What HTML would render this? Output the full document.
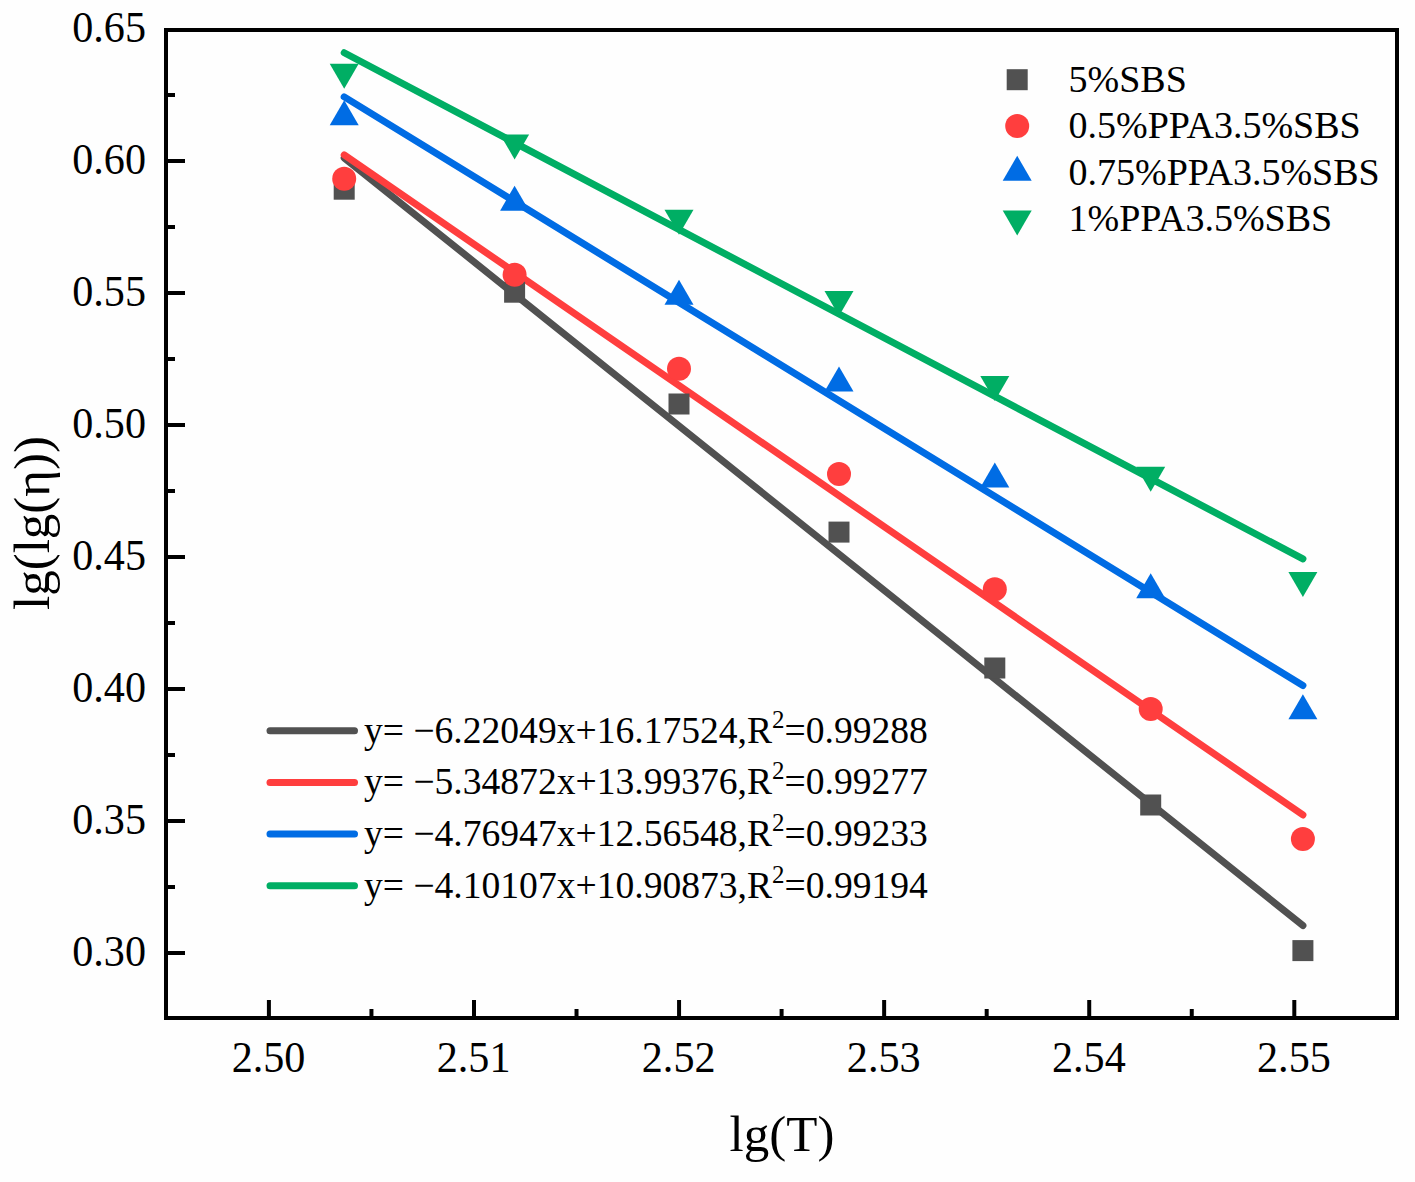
<!DOCTYPE html><html><head><meta charset="utf-8"><style>
html,body{margin:0;padding:0;background:#fefefe;width:1415px;height:1182px;overflow:hidden}
svg{display:block}
text{font-family:"Liberation Serif", serif;fill:#000}
</style></head><body>
<svg width="1415" height="1182" viewBox="0 0 1415 1182">
<rect width="1415" height="1182" fill="#fefefe"/>
<line x1="344.20" y1="157.90" x2="1302.90" y2="925.59" stroke="#515151" stroke-width="7.0" stroke-linecap="round"/>
<line x1="344.20" y1="154.87" x2="1302.90" y2="814.98" stroke="#FF3E3E" stroke-width="7.0" stroke-linecap="round"/>
<line x1="344.20" y1="96.87" x2="1302.90" y2="685.49" stroke="#006CE4" stroke-width="7.0" stroke-linecap="round"/>
<line x1="344.20" y1="52.77" x2="1302.90" y2="558.90" stroke="#00AE64" stroke-width="7.0" stroke-linecap="round"/>
<rect x="333.70" y="178.70" width="21.00" height="21.00" fill="#515151"/>
<rect x="504.10" y="281.70" width="21.00" height="21.00" fill="#515151"/>
<rect x="668.50" y="393.50" width="21.00" height="21.00" fill="#515151"/>
<rect x="828.50" y="521.60" width="21.00" height="21.00" fill="#515151"/>
<rect x="984.30" y="657.50" width="21.00" height="21.00" fill="#515151"/>
<rect x="1140.20" y="794.50" width="21.00" height="21.00" fill="#515151"/>
<rect x="1292.40" y="940.10" width="21.00" height="21.00" fill="#515151"/>
<circle cx="344.20" cy="178.70" r="12.00" fill="#FF3E3E"/>
<circle cx="514.60" cy="274.80" r="12.00" fill="#FF3E3E"/>
<circle cx="679.00" cy="368.70" r="12.00" fill="#FF3E3E"/>
<circle cx="839.00" cy="473.90" r="12.00" fill="#FF3E3E"/>
<circle cx="994.80" cy="589.30" r="12.00" fill="#FF3E3E"/>
<circle cx="1150.70" cy="709.00" r="12.00" fill="#FF3E3E"/>
<circle cx="1302.90" cy="839.00" r="12.00" fill="#FF3E3E"/>
<polygon points="344.20,100.13 358.70,125.13 329.70,125.13" fill="#006CE4"/>
<polygon points="514.60,185.63 529.10,210.63 500.10,210.63" fill="#006CE4"/>
<polygon points="679.00,279.73 693.50,304.73 664.50,304.73" fill="#006CE4"/>
<polygon points="839.00,366.53 853.50,391.53 824.50,391.53" fill="#006CE4"/>
<polygon points="994.80,462.53 1009.30,487.53 980.30,487.53" fill="#006CE4"/>
<polygon points="1150.70,573.33 1165.20,598.33 1136.20,598.33" fill="#006CE4"/>
<polygon points="1302.90,694.33 1317.40,719.33 1288.40,719.33" fill="#006CE4"/>
<polygon points="329.70,63.87 358.70,63.87 344.20,88.87" fill="#00AE64"/>
<polygon points="500.10,134.47 529.10,134.47 514.60,159.47" fill="#00AE64"/>
<polygon points="664.50,209.67 693.50,209.67 679.00,234.67" fill="#00AE64"/>
<polygon points="824.50,290.97 853.50,290.97 839.00,315.97" fill="#00AE64"/>
<polygon points="980.30,375.97 1009.30,375.97 994.80,400.97" fill="#00AE64"/>
<polygon points="1136.20,466.67 1165.20,466.67 1150.70,491.67" fill="#00AE64"/>
<polygon points="1288.40,571.97 1317.40,571.97 1302.90,596.97" fill="#00AE64"/>
<rect x="166" y="30" width="1231" height="988" fill="none" stroke="#000" stroke-width="4"/>
<line x1="166" y1="953.00" x2="185.00" y2="953.00" stroke="#000" stroke-width="4"/>
<line x1="166" y1="887.00" x2="175.00" y2="887.00" stroke="#000" stroke-width="4"/>
<line x1="166" y1="821.00" x2="185.00" y2="821.00" stroke="#000" stroke-width="4"/>
<line x1="166" y1="755.00" x2="175.00" y2="755.00" stroke="#000" stroke-width="4"/>
<line x1="166" y1="689.00" x2="185.00" y2="689.00" stroke="#000" stroke-width="4"/>
<line x1="166" y1="623.00" x2="175.00" y2="623.00" stroke="#000" stroke-width="4"/>
<line x1="166" y1="557.00" x2="185.00" y2="557.00" stroke="#000" stroke-width="4"/>
<line x1="166" y1="491.00" x2="175.00" y2="491.00" stroke="#000" stroke-width="4"/>
<line x1="166" y1="425.00" x2="185.00" y2="425.00" stroke="#000" stroke-width="4"/>
<line x1="166" y1="359.00" x2="175.00" y2="359.00" stroke="#000" stroke-width="4"/>
<line x1="166" y1="293.00" x2="185.00" y2="293.00" stroke="#000" stroke-width="4"/>
<line x1="166" y1="227.00" x2="175.00" y2="227.00" stroke="#000" stroke-width="4"/>
<line x1="166" y1="161.00" x2="185.00" y2="161.00" stroke="#000" stroke-width="4"/>
<line x1="166" y1="95.00" x2="175.00" y2="95.00" stroke="#000" stroke-width="4"/>
<line x1="268.90" y1="1018" x2="268.90" y2="1000.00" stroke="#000" stroke-width="4"/>
<line x1="371.44" y1="1018" x2="371.44" y2="1009.00" stroke="#000" stroke-width="4"/>
<line x1="473.98" y1="1018" x2="473.98" y2="1000.00" stroke="#000" stroke-width="4"/>
<line x1="576.52" y1="1018" x2="576.52" y2="1009.00" stroke="#000" stroke-width="4"/>
<line x1="679.06" y1="1018" x2="679.06" y2="1000.00" stroke="#000" stroke-width="4"/>
<line x1="781.60" y1="1018" x2="781.60" y2="1009.00" stroke="#000" stroke-width="4"/>
<line x1="884.14" y1="1018" x2="884.14" y2="1000.00" stroke="#000" stroke-width="4"/>
<line x1="986.68" y1="1018" x2="986.68" y2="1009.00" stroke="#000" stroke-width="4"/>
<line x1="1089.22" y1="1018" x2="1089.22" y2="1000.00" stroke="#000" stroke-width="4"/>
<line x1="1191.76" y1="1018" x2="1191.76" y2="1009.00" stroke="#000" stroke-width="4"/>
<line x1="1294.30" y1="1018" x2="1294.30" y2="1000.00" stroke="#000" stroke-width="4"/>
<text transform="translate(146,965.80) scale(0.958,1)" font-size="44" text-anchor="end">0.30</text>
<text transform="translate(146,833.80) scale(0.958,1)" font-size="44" text-anchor="end">0.35</text>
<text transform="translate(146,701.80) scale(0.958,1)" font-size="44" text-anchor="end">0.40</text>
<text transform="translate(146,569.80) scale(0.958,1)" font-size="44" text-anchor="end">0.45</text>
<text transform="translate(146,437.80) scale(0.958,1)" font-size="44" text-anchor="end">0.50</text>
<text transform="translate(146,305.80) scale(0.958,1)" font-size="44" text-anchor="end">0.55</text>
<text transform="translate(146,173.80) scale(0.958,1)" font-size="44" text-anchor="end">0.60</text>
<text transform="translate(146,41.80) scale(0.958,1)" font-size="44" text-anchor="end">0.65</text>
<text transform="translate(268.50,1072) scale(0.958,1)" font-size="44" text-anchor="middle">2.50</text>
<text transform="translate(473.58,1072) scale(0.958,1)" font-size="44" text-anchor="middle">2.51</text>
<text transform="translate(678.66,1072) scale(0.958,1)" font-size="44" text-anchor="middle">2.52</text>
<text transform="translate(883.74,1072) scale(0.958,1)" font-size="44" text-anchor="middle">2.53</text>
<text transform="translate(1088.82,1072) scale(0.958,1)" font-size="44" text-anchor="middle">2.54</text>
<text transform="translate(1293.90,1072) scale(0.958,1)" font-size="44" text-anchor="middle">2.55</text>
<text x="782" y="1151" font-size="51" text-anchor="middle">lg(T)</text>
<text transform="translate(49,523) rotate(-90)" x="0" y="0" font-size="51" text-anchor="middle">lg(lg(&#951;))</text>
<rect x="1006.70" y="69.20" width="21.00" height="21.00" fill="#515151"/>
<text x="1068.5" y="91.80" font-size="38">5%SBS</text>
<circle cx="1017.20" cy="126.10" r="12.00" fill="#FF3E3E"/>
<text x="1068.5" y="138.20" font-size="38">0.5%PPA3.5%SBS</text>
<polygon points="1017.20,155.83 1031.70,180.83 1002.70,180.83" fill="#006CE4"/>
<text x="1068.5" y="184.60" font-size="38">0.75%PPA3.5%SBS</text>
<polygon points="1002.70,210.57 1031.70,210.57 1017.20,235.57" fill="#00AE64"/>
<text x="1068.5" y="231.00" font-size="38">1%PPA3.5%SBS</text>
<line x1="270" y1="730.70" x2="354.5" y2="730.70" stroke="#515151" stroke-width="7.0" stroke-linecap="round"/>
<text x="364" y="742.60" font-size="37.6">y= &#8722;6.22049x+16.17524,R<tspan font-size="25" dy="-15">2</tspan><tspan dy="15">=0.99288</tspan></text>
<line x1="270" y1="782.40" x2="354.5" y2="782.40" stroke="#FF3E3E" stroke-width="7.0" stroke-linecap="round"/>
<text x="364" y="794.30" font-size="37.6">y= &#8722;5.34872x+13.99376,R<tspan font-size="25" dy="-15">2</tspan><tspan dy="15">=0.99277</tspan></text>
<line x1="270" y1="834.10" x2="354.5" y2="834.10" stroke="#006CE4" stroke-width="7.0" stroke-linecap="round"/>
<text x="364" y="846.00" font-size="37.6">y= &#8722;4.76947x+12.56548,R<tspan font-size="25" dy="-15">2</tspan><tspan dy="15">=0.99233</tspan></text>
<line x1="270" y1="885.80" x2="354.5" y2="885.80" stroke="#00AE64" stroke-width="7.0" stroke-linecap="round"/>
<text x="364" y="897.70" font-size="37.6">y= &#8722;4.10107x+10.90873,R<tspan font-size="25" dy="-15">2</tspan><tspan dy="15">=0.99194</tspan></text>
</svg></body></html>
